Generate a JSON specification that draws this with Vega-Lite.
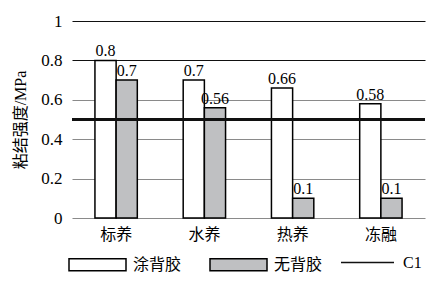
{
  "$schema": "https://vega.github.io/schema/vega-lite/v6.json",
  "width": 353,
  "height": 197,
  "autosize": {"type": "none"},
  "padding": {"left": 72, "top": 21, "right": 18, "bottom": 69},
  "background": "white",
  "config": {
    "view": {"stroke": null},
    "font": "Liberation Serif, Noto Sans CJK SC",
    "axisY": {
      "values": [0, 0.2, 0.4, 0.6, 0.8, 1], "format": "~g", "labelOverlap": false,
      "domain": false, "ticks": false, "labelFontSize": 17, "labelColor": "black", "labelPadding": 10,
      "labelFont": "Liberation Serif",
      "grid": true,
      "gridColor": {"condition": {"test": "datum.value >= 0.8", "value": "#111111"}, "value": "#8a8a8a"},
      "gridWidth": 1.2, "gridOpacity": 1,
      "titleFontSize": 16, "titleFontWeight": "normal", "titleColor": "black",
      "titleFont": "Liberation Serif, Noto Sans CJK SC", "titlePadding": 12
    }
  },
  "data": {
    "values": [
      {"cond": "标养", "type": "涂背胶", "v": 0.8},
      {"cond": "标养", "type": "无背胶", "v": 0.7},
      {"cond": "水养", "type": "涂背胶", "v": 0.7},
      {"cond": "水养", "type": "无背胶", "v": 0.56},
      {"cond": "热养", "type": "涂背胶", "v": 0.66},
      {"cond": "热养", "type": "无背胶", "v": 0.1},
      {"cond": "冻融", "type": "涂背胶", "v": 0.58},
      {"cond": "冻融", "type": "无背胶", "v": 0.1}
    ]
  },
  "layer": [
    {
      "mark": {"type": "bar", "stroke": "black", "strokeWidth": 1.5},
      "encoding": {
        "x": {
          "field": "cond", "type": "nominal", "sort": null,
          "scale": {"paddingInner": 0.52, "paddingOuter": 0.26},
          "axis": {"title": null, "domain": false, "ticks": false, "labelAngle": 0,
                   "labelFont": "Noto Sans CJK SC", "labelFontSize": 16, "labelColor": "black", "labelPadding": 8}
        },
        "xOffset": {"field": "type", "type": "nominal", "scale": {"domain": ["涂背胶", "无背胶"], "padding": 0}},
        "y": {
          "field": "v", "type": "quantitative",
          "scale": {"domain": [0, 1], "nice": false},
          "axis": {"title": "粘结强度/MPa", "values": [0, 0.2, 0.4, 0.6, 0.8, 1], "labelOverlap": false, "labelFont": "Liberation Serif", "labelFontSize": 17, "titleFont": "Liberation Serif, Noto Sans CJK SC"}
        },
        "fill": {
          "field": "type", "type": "nominal",
          "scale": {"domain": ["涂背胶", "无背胶"], "range": ["white", "#bfc0c2"]},
          "legend": {
            "title": null, "orient": "none", "legendX": -4, "legendY": 214, "direction": "horizontal",
            "symbolType": "M-1,-0.21H1V0.21H-1Z", "symbolSize": 3249, "symbolStrokeColor": "black",
            "symbolStrokeWidth": 1.5, "labelFont": "Noto Sans CJK SC", "labelFontSize": 16, "labelColor": "black",
            "labelOffset": 6, "columnPadding": 25, "padding": 0, "symbolOpacity": 1
          }
        }
      }
    },
    {
      "mark": {"type": "text", "baseline": "alphabetic", "dy": -4, "fontSize": 16, "font": "Liberation Serif", "color": "black"},
      "encoding": {
        "x": {"field": "cond", "type": "nominal", "sort": null},
        "xOffset": {"field": "type", "type": "nominal"},
        "y": {"field": "v", "type": "quantitative", "axis": {"title": "粘结强度/MPa", "values": [0, 0.2, 0.4, 0.6, 0.8, 1], "labelOverlap": false, "labelFont": "Liberation Serif", "labelFontSize": 17, "titleFont": "Liberation Serif, Noto Sans CJK SC"}},
        "text": {"field": "v", "type": "quantitative", "format": "~g"}
      }
    },
    {
      "mark": {"type": "rule", "strokeWidth": 2},
      "encoding": {
        "y": {"datum": 0.5, "type": "quantitative", "axis": {"title": "粘结强度/MPa", "values": [0, 0.2, 0.4, 0.6, 0.8, 1], "labelOverlap": false, "labelFont": "Liberation Serif", "labelFontSize": 17, "titleFont": "Liberation Serif, Noto Sans CJK SC"}},
        "stroke": {
          "datum": "C1", "type": "nominal",
          "scale": {"domain": ["C1"], "range": ["#111111"]},
          "legend": {
            "title": null, "orient": "none", "legendX": 268, "legendY": 214,
            "symbolType": "stroke", "symbolSize": 2809, "symbolStrokeWidth": 1.5,
            "labelFont": "Liberation Serif", "labelFontSize": 16, "labelColor": "black", "labelOffset": 8, "padding": 0
          }
        }
      }
    }
  ]
}
